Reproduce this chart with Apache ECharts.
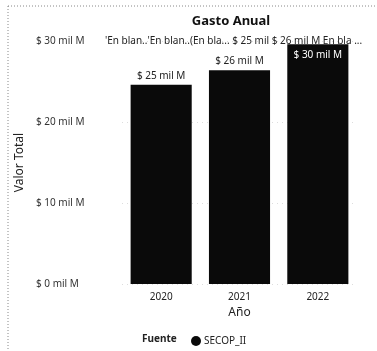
<!DOCTYPE html>
<html>
<head>
<meta charset="utf-8">
<script src="https://cdn.jsdelivr.net/npm/echarts@6/dist/echarts.min.js"></script>
<style>
  html, body { margin: 0; padding: 0; background: #fff; }
  #chart { width: 377px; height: 351px; }
</style>
</head>
<body>
<div id="chart"></div>
<script>
// datos
const years = ['2020', '2021', '2022'];
const valores = [24.6, 26.4, 29.6]; // miles de millones
const etiquetas = ['$ 25 mil M', '$ 26 mil M', '$ 30 mil M'];
const yTicks = [0, 10, 20, 30];

const fuente = 'Noto Sans';

let chart = echarts.init(document.getElementById('chart'));
chart.setOption({
    animation: false,
    textStyle: { fontFamily: fuente },
    title: [
        {
            text: 'Gasto Anual',
            left: 226,
            top: 10,
            textAlign: 'center',
            textStyle: { fontSize: 13, fontWeight: 'bold', color: '#111' }
        },
        {
            // etiquetas superpuestas de la fila superior
            text: "'En blan..'En blan..(En bla... $ 25 mil $ 26 mil M En bla ...",
            left: 100,
            top: 31,
            textStyle: { fontSize: 10, fontWeight: 'normal', color: '#222' }
        }
    ],
    graphic: [
        {
            type: 'rect',
            shape: { x: 8, y: 6, width: 400, height: 400 },
            style: { fill: 'none', stroke: '#888', lineWidth: 1, lineDash: [1, 2] }
        },
        {
            type: 'text',
            left: 142,
            top: 334,
            style: { text: 'Fuente', font: 'bold 10px "Noto Sans"', fill: '#222' }
        }
    ],
    legend: {
        left: 186,
        top: 331,
        icon: 'circle',
        itemWidth: 10,
        itemHeight: 10,
        itemGap: 4,
        textStyle: { fontSize: 10, color: '#222', padding: [0, 0, 0, -2] },
        data: ['SECOP_II']
    },
    grid: { left: 122, right: 20, top: 41, bottom: 67 },
    xAxis: {
        type: 'category',
        data: years,
        name: 'Año',
        nameLocation: 'middle',
        nameGap: 22,
        nameTextStyle: { fontSize: 12, color: '#222' },
        axisLine: { show: false },
        axisTick: { show: false },
        axisLabel: { fontSize: 10, color: '#222', margin: 8 }
    },
    yAxis: {
        type: 'value',
        min: 0,
        max: 30,
        interval: 10,
        name: 'Valor Total',
        nameLocation: 'middle',
        nameRotate: 90,
        nameGap: 94,
        nameTextStyle: { fontSize: 12, color: '#222' },
        splitLine: { lineStyle: { color: '#ddd', type: [1, 4] } },
        axisLabel: {
            align: 'left',
            margin: 86,
            fontSize: 10,
            color: '#333',
            formatter: function (v) { return '$ ' + v + ' mil M'; }
        }
    },
    series: [
        {
            name: 'SECOP_II',
            type: 'bar',
            data: valores.map(function (v, i) {
                // la ultima barra lleva la etiqueta dentro, en blanco
                if (i === 2) {
                    return { value: v, label: { position: 'insideTop', color: '#fff', distance: 6 } };
                }
                return v;
            }),
            barCategoryGap: '22%',
            itemStyle: { color: '#0a0a0a' },
            label: {
                show: true,
                fontSize: 10,
                formatter: function (p) { return etiquetas[p.dataIndex]; },
                position: 'top',
                distance: 4,
                color: '#222'
            }
        }
    ]
});
</script>
</body>
</html>
